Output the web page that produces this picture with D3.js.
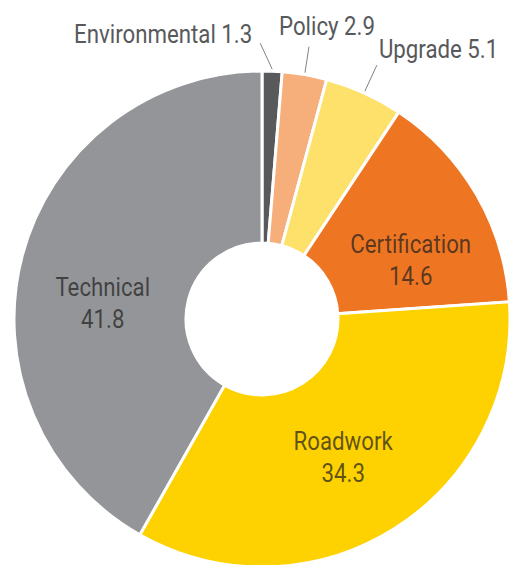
<!DOCTYPE html>
<html>
<head>
<meta charset="utf-8">
<script src="https://cdn.jsdelivr.net/npm/d3@7"></script>
<style>
  body { margin: 0; background: #fff; }
  svg { display: block; }
  text { font-family: "Roboto", sans-serif; }
</style>
</head>
<body>
<div class="chart"></div>
<script>
// categorieen en waarden (in volgorde met de klok mee vanaf 12 uur)
var categories = ["Environmental", "Policy", "Upgrade", "Certification", "Roadwork", "Technical"];
var values = [1.3, 2.9, 5.1, 14.6, 34.3, 41.8];
var colors = ["#58595b", "#f6ae7b", "#fde16a", "#ee7623", "#fed100", "#939598"];
// welke labels buiten de ring staan
var outside = [true, true, true, false, false, false];

var width = 510;
var height = 565;
var cx = 262, cy = 319;
var outerR = 248, innerR = 76;
var fontSize = 25;
var squeeze = 0.89; // smal lettertype nabootsen

var svg = d3.select(".chart").append("svg")
  .attr("width", width)
  .attr("height", height);

var g = svg.append("g")
  .attr("transform", "translate(" + cx + "," + cy + ")");

var data = categories.map((c, i) => ({ name: c, value: values[i], color: colors[i], outside: outside[i] }));

var pie = d3.pie().sort(null).value(d => d.value);
var arc = d3.arc().innerRadius(innerR).outerRadius(outerR);
var arcs = pie(data);

g.selectAll("path.slice")
  .data(arcs)
  .enter()
  .append("path")
  .attr("class", "slice")
  .attr("d", arc)
  .attr("fill", d => d.data.color)
  .attr("stroke", "#fff")
  .attr("stroke-width", 3);

// hulpfunctie: tekst smaller maken rond zijn ankerpunt
function addText(sel, anchor, y, fill, opacity, txt) {
  sel.append("text")
    .attr("text-anchor", anchor)
    .attr("transform", "translate(0," + y + ") scale(" + squeeze + ",1)")
    .attr("font-size", fontSize)
    .attr("fill", fill)
    .attr("fill-opacity", opacity)
    .text(txt);
}

// labels binnen de ring (kleine draai zodat ze netjes in het vlak vallen)
var labelNudge = { Certification: 0.15, Roadwork: 0.03, Technical: -0.16 };
var labelArc = d3.arc().innerRadius(160).outerRadius(160);

var inner = g.selectAll("g.inner")
  .data(arcs.filter(d => !d.data.outside))
  .enter()
  .append("g")
  .attr("class", "inner")
  .attr("transform", function (d) {
    var n = labelNudge[d.data.name] || 0;
    var p = labelArc.centroid({ startAngle: d.startAngle + n, endAngle: d.endAngle + n });
    return "translate(" + p[0] + "," + p[1] + ")";
  });

inner.each(function (d) {
  var sel = d3.select(this);
  addText(sel, "middle", -7, "#231f20", 0.72, d.data.name);
  addText(sel, "middle", 25, "#231f20", 0.72, d.data.value.toFixed(1));
});

// labels buiten de ring met een leader-lijntje
var leaderArc = d3.arc().innerRadius(outerR + 2).outerRadius(outerR + 2);
var leader = {
  Environmental: { dx: -12, dy: -26, tx: -8, ty: 0, anchor: "end" },
  Policy: { dx: 4, dy: -26, tx: 18, ty: -12, anchor: "middle" },
  Upgrade: { dx: 12, dy: -26, tx: 2, ty: -7, anchor: "start" }
};

var outs = g.selectAll("g.outer")
  .data(arcs.filter(d => d.data.outside))
  .enter()
  .append("g")
  .attr("class", "outer");

outs.each(function (d) {
  var sel = d3.select(this);
  var l = leader[d.data.name];
  var p = leaderArc.centroid(d);
  var ex = p[0] + l.dx, ey = p[1] + l.dy;
  sel.append("line")
    .attr("x1", p[0]).attr("y1", p[1])
    .attr("x2", ex).attr("y2", ey)
    .attr("stroke", "#808285")
    .attr("stroke-width", 1);
  var t = sel.append("g")
    .attr("transform", "translate(" + (ex + l.tx) + "," + (ey + l.ty) + ")");
  addText(t, l.anchor, 0, "#58595b", 1, d.data.name + " " + d.data.value.toFixed(1));
});
</script>
</body>
</html>
